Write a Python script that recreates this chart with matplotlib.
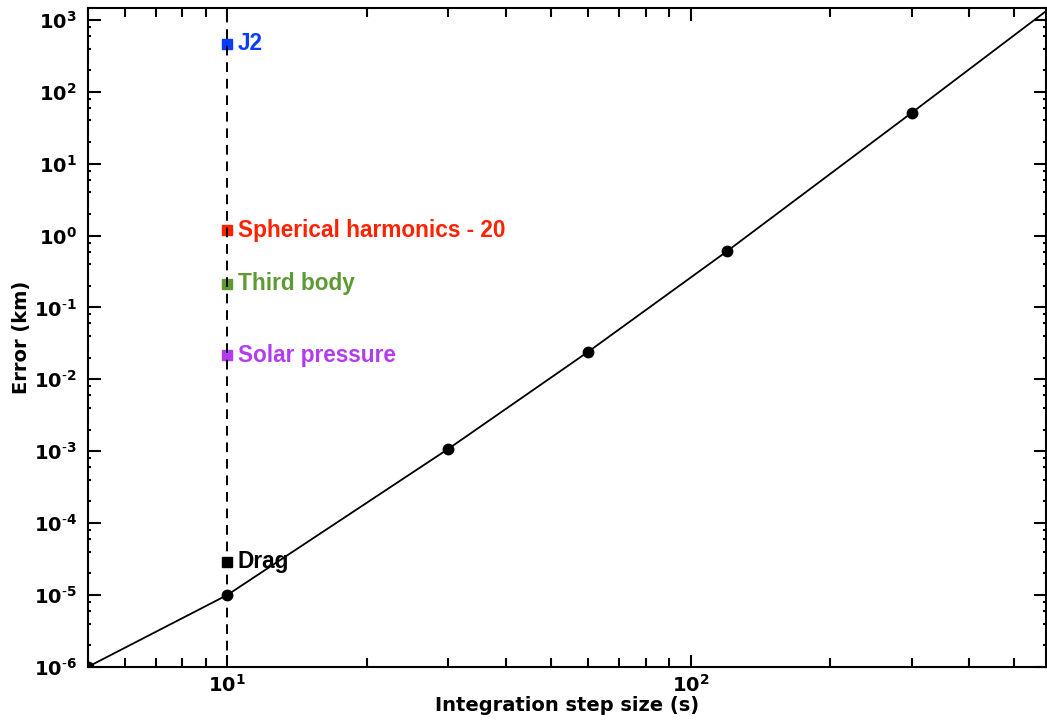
import matplotlib
matplotlib.use("Agg")
import matplotlib.pyplot as plt
from matplotlib import font_manager
from matplotlib.ticker import LogLocator, FixedLocator, FixedFormatter

plt.rcParams["mathtext.default"] = "bf"

# convergence of the integrator error with step size
step_sizes = [5, 10, 30, 60, 120, 300, 600]
step_errors = [1.0e-6, 1.0e-5, 1.08e-3, 0.024, 0.61, 51.0, 1500.0]

# perturbation magnitudes at a 10 s step
pert_names = ["J2", "Spherical harmonics - 20", "Third body", "Solar pressure", "Drag"]
pert_errors = [465.0, 1.18, 0.215, 0.0215, 2.9e-5]
pert_colors = ["#0a3cff", "#ff2200", "#5e9a34", "#b43cf0", "#000000"]
ref_step = 10

y_exps = list(range(-6, 4))
y_labels = [r"$10^{%d}$" % e if e >= 0 else r"$10^{\text{-}%d}$" % -e
            for e in y_exps]

# pick the regular-width Liberation Sans Bold file (not the Narrow one)
label_font = None
for f in font_manager.fontManager.ttflist:
    fn = f.fname.lower()
    if "liberationsans-bold." in fn.replace(" ", ""):
        label_font = font_manager.FontProperties(fname=f.fname, size=16.3)
        break
if label_font is None:
    label_font = font_manager.FontProperties(family="DejaVu Sans",
                                             weight="bold", size=14.5)

fig = plt.figure(figsize=(10.47, 7.24), dpi=100)
ax = fig.add_axes([0.084, 0.079, 0.915, 0.910])

ax.plot(step_sizes, step_errors, color="black", linewidth=1.3,
        marker="o", markersize=7.5, zorder=3)

for name, err, col in zip(pert_names, pert_errors, pert_colors):
    ax.plot(ref_step, err, marker="s", markersize=7.5, color=col,
            linestyle="none", zorder=2)
    ax.annotate(name, (ref_step, err), xytext=(7.5, 0),
                textcoords="offset points", va="center", ha="left",
                color=col, fontproperties=label_font)

ax.axvline(ref_step, color="black", linestyle=(0, (5, 3.5)), linewidth=1.4,
           zorder=4)

ax.set_xscale("log")
ax.set_yscale("log")
ax.set_xlim(5, 585)
ax.set_ylim(1e-6, 1.47e3)

ax.yaxis.set_major_locator(FixedLocator([10.0 ** e for e in y_exps]))
ax.yaxis.set_major_formatter(FixedFormatter(y_labels))
ax.yaxis.set_minor_locator(LogLocator(base=10, subs=(2, 4, 6, 8), numticks=20))

ax.tick_params(which="both", direction="in", top=True, right=True,
               labelsize=14, width=1.5)
ax.tick_params(which="major", length=9)
ax.tick_params(axis="x", which="minor", length=6.5)
ax.tick_params(axis="y", which="minor", length=2.5)
ax.tick_params(axis="y", which="major", pad=8)
ax.tick_params(axis="x", which="major", pad=5)
for lab in ax.get_xticklabels() + ax.get_yticklabels():
    lab.set_fontweight("bold")
for sp in ax.spines.values():
    sp.set_linewidth(1.5)

ax.set_xlabel("Integration step size (s)", fontsize=14, fontweight="bold",
              labelpad=0)
ax.set_ylabel("Error (km)", fontsize=14, fontweight="bold", labelpad=2)

fig.savefig("out.png", dpi=100)
